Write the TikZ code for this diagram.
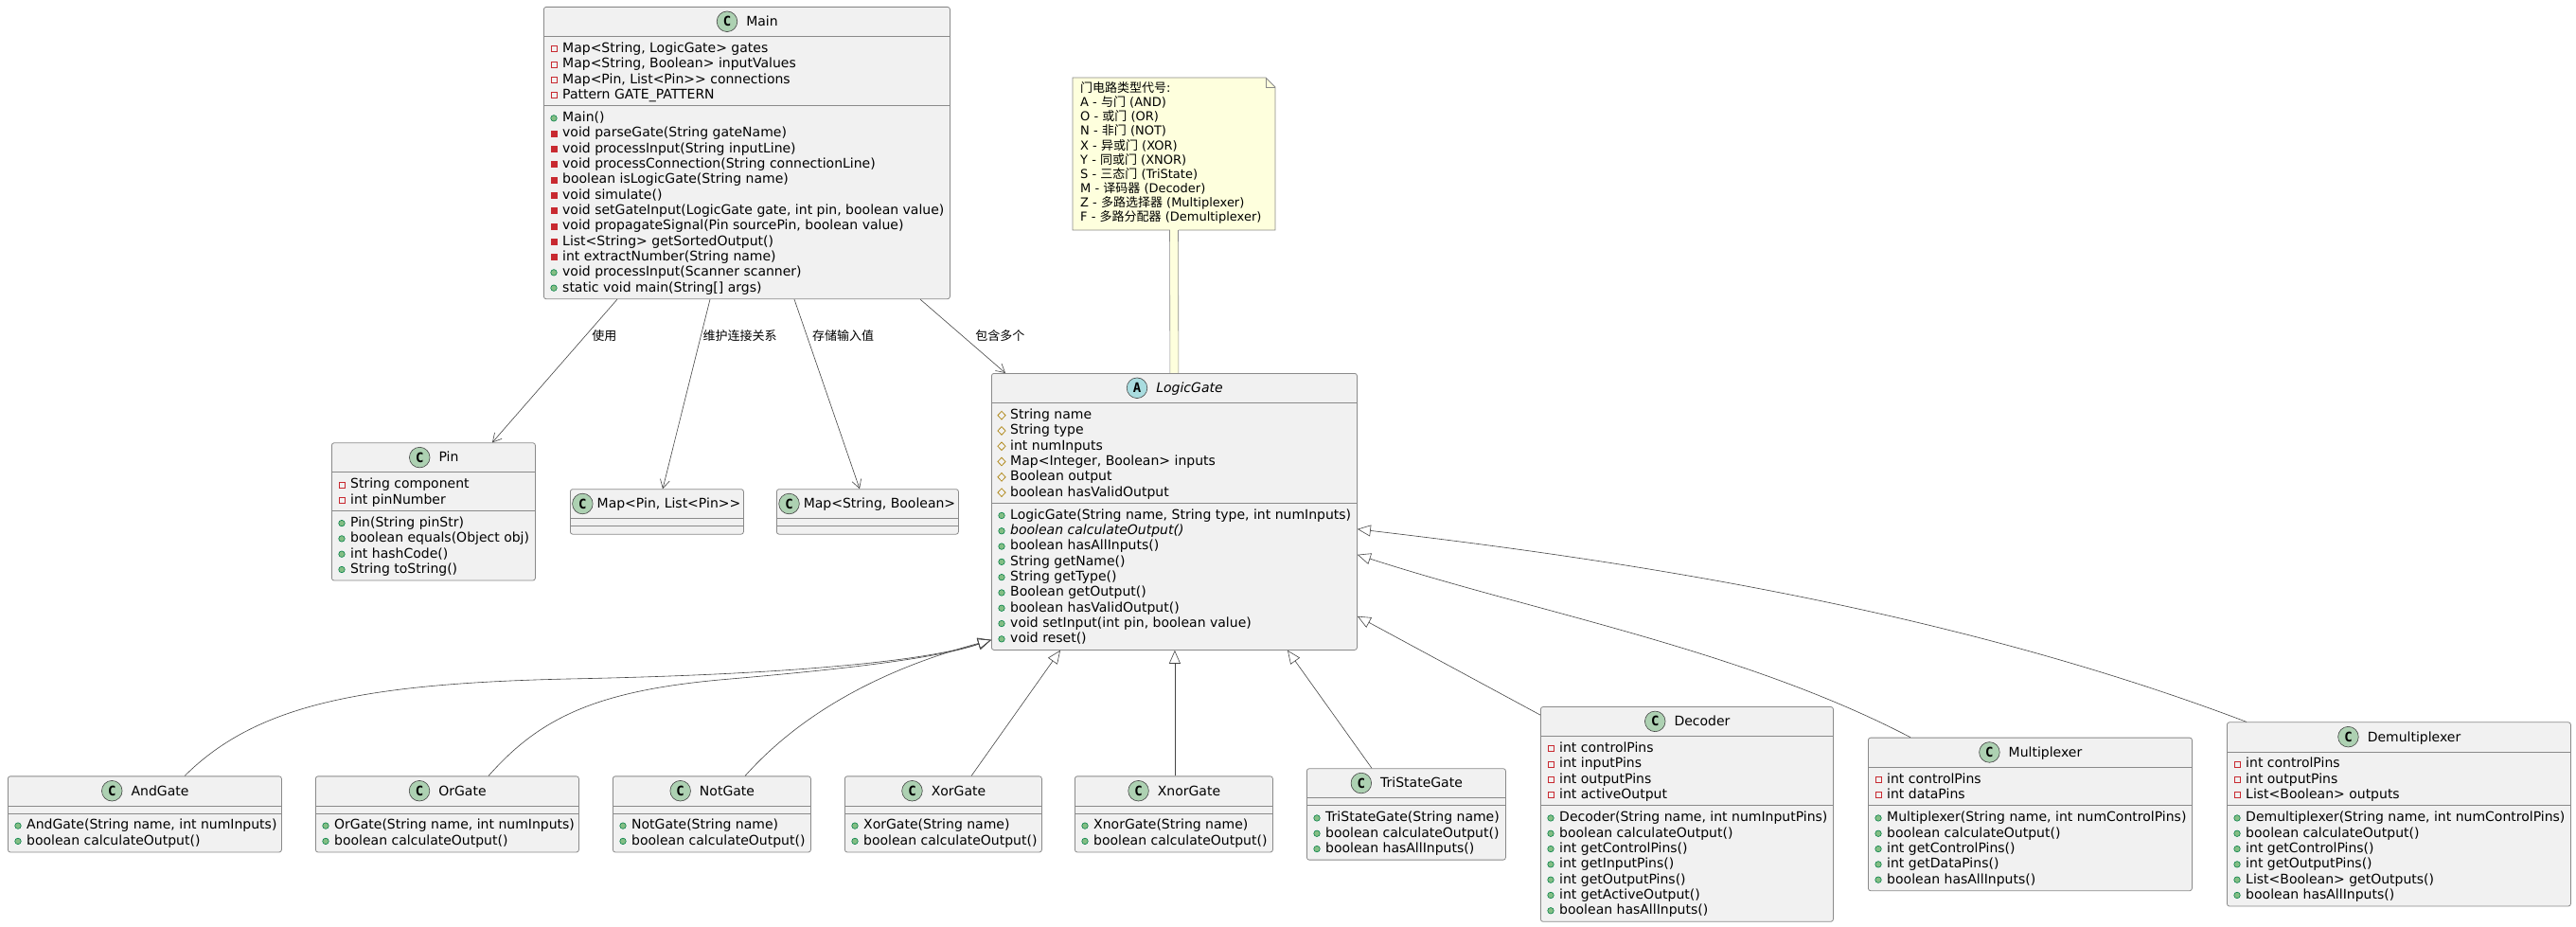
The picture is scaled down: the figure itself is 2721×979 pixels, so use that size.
\documentclass[tikz,border=0pt]{standalone}
\usepackage{fontspec}
\setmainfont{DejaVu Sans}
\newfontfamily\cjkfont{Noto Sans CJK SC}
\newfontfamily\iconfont{DejaVu Sans Mono}
\usetikzlibrary{positioning,arrows.meta,shapes.geometric}
\definecolor{boxfill}{HTML}{F1F1F1}
\definecolor{boxline}{HTML}{8A8A8A}
\definecolor{edgeline}{HTML}{454545}
\definecolor{cgreen}{HTML}{ADD1B2}
\definecolor{acyan}{HTML}{A9DCDF}
\definecolor{privred}{HTML}{C82930}
\definecolor{pubgreen}{HTML}{038048}
\definecolor{publight}{HTML}{84BE84}
\definecolor{protgold}{HTML}{B38D22}
\definecolor{notefill}{HTML}{FEFFDD}
\newcommand\zh[1]{{\cjkfont #1}}

\begin{document}
\begin{tikzpicture}[x=1pt,y=-1pt,font=\fontsize{14}{16.3}\selectfont,
  classbox/.style={draw=boxline,fill=boxfill,line width=0.8pt,rounded corners=2.5pt,anchor=north west,inner sep=0},
  sepline/.style={draw=boxline,line width=0.8pt},
  cname/.style={inner sep=0,text height=13pt,text depth=3.3pt},
  cicon/.style={circle,draw=edgeline,fill=cgreen,line width=0.6pt,minimum size=21.6pt,inner sep=0,font=\iconfont\fontsize{14}{14}\selectfont\bfseries},
  member/.style={anchor=west,inner sep=0,text height=13pt,text depth=3.3pt},
  pf/.style={draw=privred,line width=0.8pt,minimum size=6pt,inner sep=0},
  pm/.style={pf,fill=privred},
  um/.style={circle,draw=pubgreen,fill=publight,line width=0.6pt,minimum size=6.5pt,inner sep=0},
  rf/.style={diamond,draw=protgold,line width=0.8pt,minimum width=8.5pt,minimum height=9pt,inner sep=0},
  notetext/.style={anchor=west,inner sep=0,font=\fontsize{13}{15.13}\selectfont,text height=12.06pt,text depth=3.07pt},
  elabel/.style={inner sep=0,font=\fontsize{13}{15}\selectfont\cjkfont},
  uses/.style={draw=edgeline,line width=0.6pt,-{Straight Barb[length=9pt,width=10pt]}},
  extends/.style={draw=edgeline,line width=0.6pt,-{Triangle[open,length=14pt,width=12pt]}}]

\path[use as bounding box,fill=white] (0,0) rectangle (2721,979);

% Main
\begin{scope}[shift={(574,7)}]
\node[classbox,minimum width=429,minimum height=308.3] (main) at (0,0) {};
\node[cname] (main-n) at (231,15.75) {Main};
\node[cicon,left=9pt of main-n] (main-c) {C};
\draw[sepline] (0,31.5) -- (429,31.5) (0,104.7) -- (429,104.7);
\foreach \v/\t [count=\i] in {pf/{Map<String, LogicGate> gates},pf/{Map<String, Boolean> inputValues},
  pf/{Map<Pin, List<Pin>{}> connections},pf/{Pattern GATE\_PATTERN}}
  {\node[\v] (main-ai\i) at (11,28.35+16.3*\i) {}; \node[member] (main-a\i) at (20,27.35+16.3*\i) {\t};}
\foreach \v/\t [count=\i] in {um/{Main()},pm/{void parseGate(String gateName)},pm/{void processInput(String inputLine)},
  pm/{void processConnection(String connectionLine)},pm/{boolean isLogicGate(String name)},pm/{void simulate()},
  pm/{void setGateInput(LogicGate gate, int pin, boolean value)},pm/{void propagateSignal(Pin sourcePin, boolean value)},
  pm/{List<String> getSortedOutput()},pm/{int extractNumber(String name)},um/{void processInput(Scanner scanner)},
  um/{static void main(String[] args)}}
  {\node[\v] (main-mi\i) at (11,101.55+16.3*\i) {}; \node[member] (main-m\i) at (20,100.55+16.3*\i) {\t};}
\end{scope}

% LogicGate
\begin{scope}[shift={(1047,394)}]
\node[classbox,minimum width=386,minimum height=292] (logic) at (0,0) {};
\node[cname] (logic-n) at (209.5,15.75) {\itshape LogicGate};
\node[cicon,fill=acyan,left=9pt of logic-n] (logic-c) {A};
\draw[sepline] (0,31.5) -- (386,31.5) (0,137.3) -- (386,137.3);
\foreach \v/\t [count=\i] in {rf/{String name},rf/{String type},rf/{int numInputs},rf/{Map<Integer, Boolean> inputs},
  rf/{Boolean output},rf/{boolean hasValidOutput}}
  {\node[\v] (logic-ai\i) at (11,28.35+16.3*\i) {}; \node[member] (logic-a\i) at (20,27.35+16.3*\i) {\t};}
\foreach \v/\t [count=\i] in {um/{LogicGate(String name, String type, int numInputs)},um/{\itshape boolean calculateOutput()},
  um/{boolean hasAllInputs()},um/{String getName()},um/{String getType()},um/{Boolean getOutput()},
  um/{boolean hasValidOutput()},um/{void setInput(int pin, boolean value)},um/{void reset()}}
  {\node[\v] (logic-mi\i) at (11,134.15+16.3*\i) {}; \node[member] (logic-m\i) at (20,133.15+16.3*\i) {\t};}
\end{scope}

% Pin
\begin{scope}[shift={(350,467.35)}]
\node[classbox,minimum width=215,minimum height=145.3] (pin) at (0,0) {};
\node[cname] (pin-n) at (124,15.75) {Pin};
\node[cicon,left=9pt of pin-n] (pin-c) {C};
\draw[sepline] (0,31.5) -- (215,31.5) (0,72.1) -- (215,72.1);
\foreach \v/\t [count=\i] in {pf/{String component},pf/{int pinNumber}}
  {\node[\v] (pin-ai\i) at (11,28.35+16.3*\i) {}; \node[member] (pin-a\i) at (20,27.35+16.3*\i) {\t};}
\foreach \v/\t [count=\i] in {um/{Pin(String pinStr)},um/{boolean equals(Object obj)},um/{int hashCode()},um/{String toString()}}
  {\node[\v] (pin-mi\i) at (11,68.95+16.3*\i) {}; \node[member] (pin-m\i) at (20,67.95+16.3*\i) {\t};}
\end{scope}

% the two maps
\begin{scope}[shift={(602,516.25)}]
\node[classbox,minimum width=183,minimum height=47.5] (mapa) at (0,0) {};
\node[cname] (mapa-n) at (104.5,15.75) {Map<Pin, List<Pin>{}>};
\node[cicon,left=4pt of mapa-n] (mapa-c) {C};
\draw[sepline] (0,31.5) -- (183,31.5) (0,39.5) -- (183,39.5);
\end{scope}

\begin{scope}[shift={(820,516.25)}]
\node[classbox,minimum width=192,minimum height=47.5] (mapb) at (0,0) {};
\node[cname] (mapb-n) at (109,15.75) {Map<String, Boolean>};
\node[cicon,left=4pt of mapb-n] (mapb-c) {C};
\draw[sepline] (0,31.5) -- (192,31.5) (0,39.5) -- (192,39.5);
\end{scope}

% simple gates
\begin{scope}[shift={(8,819.45)}]
\node[classbox,minimum width=289,minimum height=80.1] (andg) at (0,0) {};
\node[cname] (andg-n) at (161,15.75) {AndGate};
\node[cicon,left=9pt of andg-n] (andg-c) {C};
\draw[sepline] (0,31.5) -- (289,31.5) (0,39.5) -- (289,39.5);
\foreach \v/\t [count=\i] in {um/{AndGate(String name, int numInputs)},um/{boolean calculateOutput()}}
  {\node[\v] (andg-mi\i) at (11,36.35+16.3*\i) {}; \node[member] (andg-m\i) at (20,35.35+16.3*\i) {\t};}
\end{scope}

\begin{scope}[shift={(333,819.45)}]
\node[classbox,minimum width=278,minimum height=80.1] (org) at (0,0) {};
\node[cname] (org-n) at (155.5,15.75) {OrGate};
\node[cicon,left=9pt of org-n] (org-c) {C};
\draw[sepline] (0,31.5) -- (278,31.5) (0,39.5) -- (278,39.5);
\foreach \v/\t [count=\i] in {um/{OrGate(String name, int numInputs)},um/{boolean calculateOutput()}}
  {\node[\v] (org-mi\i) at (11,36.35+16.3*\i) {}; \node[member] (org-m\i) at (20,35.35+16.3*\i) {\t};}
\end{scope}

\begin{scope}[shift={(647,819.45)}]
\node[classbox,minimum width=209,minimum height=80.1] (notg) at (0,0) {};
\node[cname] (notg-n) at (121,15.75) {NotGate};
\node[cicon,left=9pt of notg-n] (notg-c) {C};
\draw[sepline] (0,31.5) -- (209,31.5) (0,39.5) -- (209,39.5);
\foreach \v/\t [count=\i] in {um/{NotGate(String name)},um/{boolean calculateOutput()}}
  {\node[\v] (notg-mi\i) at (11,36.35+16.3*\i) {}; \node[member] (notg-m\i) at (20,35.35+16.3*\i) {\t};}
\end{scope}

\begin{scope}[shift={(892,819.45)}]
\node[classbox,minimum width=208,minimum height=80.1] (xorg) at (0,0) {};
\node[cname] (xorg-n) at (120.5,15.75) {XorGate};
\node[cicon,left=9pt of xorg-n] (xorg-c) {C};
\draw[sepline] (0,31.5) -- (208,31.5) (0,39.5) -- (208,39.5);
\foreach \v/\t [count=\i] in {um/{XorGate(String name)},um/{boolean calculateOutput()}}
  {\node[\v] (xorg-mi\i) at (11,36.35+16.3*\i) {}; \node[member] (xorg-m\i) at (20,35.35+16.3*\i) {\t};}
\end{scope}

\begin{scope}[shift={(1135,819.45)}]
\node[classbox,minimum width=209,minimum height=80.1] (xnorg) at (0,0) {};
\node[cname] (xnorg-n) at (121,15.75) {XnorGate};
\node[cicon,left=9pt of xnorg-n] (xnorg-c) {C};
\draw[sepline] (0,31.5) -- (209,31.5) (0,39.5) -- (209,39.5);
\foreach \v/\t [count=\i] in {um/{XnorGate(String name)},um/{boolean calculateOutput()}}
  {\node[\v] (xnorg-mi\i) at (11,36.35+16.3*\i) {}; \node[member] (xnorg-m\i) at (20,35.35+16.3*\i) {\t};}
\end{scope}

\begin{scope}[shift={(1380,811.3)}]
\node[classbox,minimum width=210,minimum height=96.4] (tri) at (0,0) {};
\node[cname] (tri-n) at (121.5,15.75) {TriStateGate};
\node[cicon,left=9pt of tri-n] (tri-c) {C};
\draw[sepline] (0,31.5) -- (210,31.5) (0,39.5) -- (210,39.5);
\foreach \v/\t [count=\i] in {um/{TriStateGate(String name)},um/{boolean calculateOutput()},um/{boolean hasAllInputs()}}
  {\node[\v] (tri-mi\i) at (11,36.35+16.3*\i) {}; \node[member] (tri-m\i) at (20,35.35+16.3*\i) {\t};}
\end{scope}

% complex gates
\begin{scope}[shift={(1627,746.1)}]
\node[classbox,minimum width=309,minimum height=226.8] (dec) at (0,0) {};
\node[cname] (dec-n) at (171,15.75) {Decoder};
\node[cicon,left=9pt of dec-n] (dec-c) {C};
\draw[sepline] (0,31.5) -- (309,31.5) (0,104.7) -- (309,104.7);
\foreach \v/\t [count=\i] in {pf/{int controlPins},pf/{int inputPins},pf/{int outputPins},pf/{int activeOutput}}
  {\node[\v] (dec-ai\i) at (11,28.35+16.3*\i) {}; \node[member] (dec-a\i) at (20,27.35+16.3*\i) {\t};}
\foreach \v/\t [count=\i] in {um/{Decoder(String name, int numInputPins)},um/{boolean calculateOutput()},
  um/{int getControlPins()},um/{int getInputPins()},um/{int getOutputPins()},um/{int getActiveOutput()},
  um/{boolean hasAllInputs()}}
  {\node[\v] (dec-mi\i) at (11,101.55+16.3*\i) {}; \node[member] (dec-m\i) at (20,100.55+16.3*\i) {\t};}
\end{scope}

\begin{scope}[shift={(1973,778.7)}]
\node[classbox,minimum width=342,minimum height=161.6] (mux) at (0,0) {};
\node[cname] (mux-n) at (187.5,15.75) {Multiplexer};
\node[cicon,left=9pt of mux-n] (mux-c) {C};
\draw[sepline] (0,31.5) -- (342,31.5) (0,72.1) -- (342,72.1);
\foreach \v/\t [count=\i] in {pf/{int controlPins},pf/{int dataPins}}
  {\node[\v] (mux-ai\i) at (11,28.35+16.3*\i) {}; \node[member] (mux-a\i) at (20,27.35+16.3*\i) {\t};}
\foreach \v/\t [count=\i] in {um/{Multiplexer(String name, int numControlPins)},um/{boolean calculateOutput()},
  um/{int getControlPins()},um/{int getDataPins()},um/{boolean hasAllInputs()}}
  {\node[\v] (mux-mi\i) at (11,68.95+16.3*\i) {}; \node[member] (mux-m\i) at (20,67.95+16.3*\i) {\t};}
\end{scope}

\begin{scope}[shift={(2352,762.4)}]
\node[classbox,minimum width=363,minimum height=194.2] (demux) at (0,0) {};
\node[cname] (demux-n) at (198,15.75) {Demultiplexer};
\node[cicon,left=9pt of demux-n] (demux-c) {C};
\draw[sepline] (0,31.5) -- (363,31.5) (0,88.4) -- (363,88.4);
\foreach \v/\t [count=\i] in {pf/{int controlPins},pf/{int outputPins},pf/{List<Boolean> outputs}}
  {\node[\v] (demux-ai\i) at (11,28.35+16.3*\i) {}; \node[member] (demux-a\i) at (20,27.35+16.3*\i) {\t};}
\foreach \v/\t [count=\i] in {um/{Demultiplexer(String name, int numControlPins)},um/{boolean calculateOutput()},
  um/{int getControlPins()},um/{int getOutputPins()},um/{List<Boolean> getOutputs()},um/{boolean hasAllInputs()}}
  {\node[\v] (demux-mi\i) at (11,85.25+16.3*\i) {}; \node[member] (demux-m\i) at (20,84.25+16.3*\i) {\t};}
\end{scope}

% note
\begin{scope}[shift={(1133,82)}]
\draw[fill=notefill,draw=boxline,line width=0.8pt] (0,0) -- (204,0) -- (214,10) -- (214,161) -- (0,161) -- cycle;
\draw[draw=boxline,line width=0.8pt] (204,0) -- (204,10) -- (214,10);
\coordinate (note-b) at (107,161);
\foreach \t [count=\i] in {{\zh{门电路类型代号}:},{A - \zh{与门} (AND)},{O - \zh{或门} (OR)},{N - \zh{非门} (NOT)},
  {X - \zh{异或门} (XOR)},{Y - \zh{同或门} (XNOR)},{S - \zh{三态门} (TriState)},{M - \zh{译码器} (Decoder)},
  {Z - \zh{多路选择器} (Multiplexer)},{F - \zh{多路分配器} (Demultiplexer)}}
  \node[notetext] (note-l\i) at (8,11+15.13*\i-15.13) {\t};
\end{scope}
\fill[notefill] ([xshift=-4.5pt,yshift=1pt]note-b) rectangle ([xshift=4.5pt,yshift=0.5pt]logic.north);
\draw[boxline,line width=0.6pt] ([xshift=-4.5pt]note-b) -- ([xshift=-4.5pt]logic.north)
  ([xshift=4.5pt]note-b) -- ([xshift=4.5pt]logic.north);

% associations
\draw[uses] ([xshift=78pt]main.south west) -- node[elabel,pos=0.257,right=7pt] (l-use) {使用} ([xshift=170pt]pin.north west);
\draw[uses] ([xshift=176pt]main.south west) -- node[elabel,pos=0.194,right=2pt] (l-conn) {维护连接关系} ([xshift=98pt]mapa.north west);
\draw[uses] ([xshift=265pt]main.south west) -- node[elabel,pos=0.194,right=5.5pt] (l-inp) {存储输入值} ([xshift=88pt]mapb.north west);
\draw[uses] ([xshift=398pt]main.south west) -- node[elabel,pos=0.494,right=13.5pt] (l-gate) {包含多个} ([xshift=15pt]logic.north west);

% inheritance
\draw[extends] ([xshift=187pt]andg.north west) .. controls (270,745) and (380,722) .. (600,717)
  .. controls (850,712) and (980,697) .. ([yshift=11pt]logic.south west);
\draw[extends] ([xshift=183pt]org.north west) .. controls (570,758) and (630,730) .. (760,718)
  .. controls (900,706) and (990,695) .. ([yshift=11pt]logic.south west);
\draw[extends] ([xshift=140pt]notg.north west) .. controls (840,760) and (920,710) .. ([yshift=11pt]logic.south west);
\draw[extends] ([xshift=134pt]xorg.north west) -- ([xshift=73pt]logic.south west);
\draw[extends] ([xshift=1pt]xnorg.north) -- ([xshift=0.5pt]logic.south);
\draw[extends] ([xshift=69pt]tri.north west) -- ([xshift=313pt]logic.south west);
\draw[extends] ([yshift=-9pt]dec.north west) -- ([yshift=36pt]logic.south east);
\draw[extends] ([xshift=45pt]mux.north west) .. controls (1840,686) and (1623,647) .. ([yshift=101pt]logic.south east);
\draw[extends] ([xshift=21pt]demux.north west) .. controls (2050,640) and (1700,590) .. ([yshift=128pt]logic.south east);

\end{tikzpicture}
\end{document}
